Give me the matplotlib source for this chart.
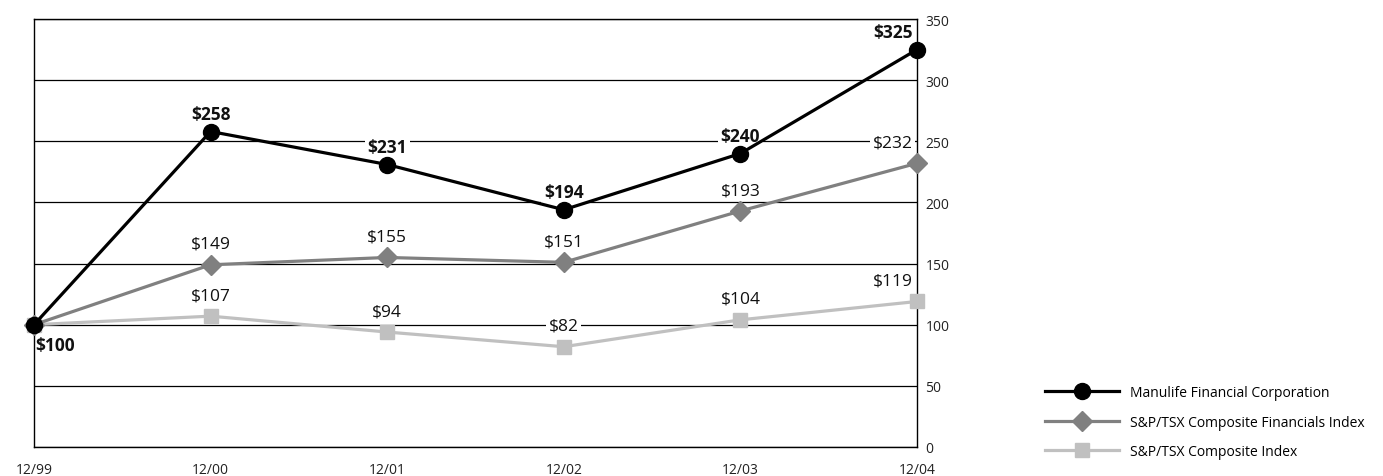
import matplotlib
matplotlib.use("Agg")
import matplotlib.pyplot as plt
from matplotlib.lines import Line2D

plt.rcParams['font.family'] = ['Open Sans', 'DejaVu Sans']

# Data
periods = ['12/99', '12/00', '12/01', '12/02', '12/03', '12/04']
manulife = [100, 258, 231, 194, 240, 325]
financials = [100, 149, 155, 151, 193, 232]
composite = [100, 107, 94, 82, 104, 119]
series_names = ['Manulife Financial Corporation',
                'S&P/TSX Composite Financials Index',
                'S&P/TSX Composite Index']
y_ticks = [0, 50, 100, 150, 200, 250, 300, 350]

BLACK = '#000000'
GRAY = '#808080'
LIGHT = '#c0c0c0'

fig = plt.figure(figsize=(13.83, 4.77), dpi=100)
ax = fig.add_axes([34 / 1383, 29 / 477, 883 / 1383, 428 / 477])

x = list(range(len(periods)))

ax.plot(x, composite, color=LIGHT, lw=2.3, marker='s', ms=10.5, mec=LIGHT,
        zorder=3, clip_on=False)
ax.plot(x, financials, color=GRAY, lw=2.3, marker='D', ms=10, mec=GRAY,
        zorder=4, clip_on=False)
ax.plot(x, manulife, color=BLACK, lw=2.3, marker='o', ms=11.5,
        zorder=5, clip_on=False)

ax.set_xlim(0, len(periods) - 1)
ax.set_ylim(0, 350)
ax.set_yticks(y_ticks)
ax.yaxis.tick_right()
ax.tick_params(axis='y', length=0, pad=6, labelsize=10, labelcolor='#222222')
ax.set_xticks(x)
ax.set_xticklabels(periods)
ax.tick_params(axis='x', length=0, pad=10.5, labelsize=10, labelcolor='#222222')
ax.grid(axis='y', color='black', lw=0.9, zorder=0.5)
ax.set_axisbelow(True)
for s in ax.spines.values():
    s.set_linewidth(1.0)
    s.set_color('black')

box = dict(boxstyle='square,pad=0.15', facecolor='white', edgecolor='none')


def label(values, bold, offset):
    for i, v in enumerate(values):
        if i == 0:
            continue
        ha = 'center'
        dx = 0
        if i == len(values) - 1:
            ha = 'right'
            dx = -3
        ax.annotate(f'${v}', (i, v), xytext=(dx, offset), textcoords='offset points',
                    ha=ha, va='center', fontsize=12.5,
                    fontweight='bold' if bold else 'normal',
                    color='#111111', bbox=box, zorder=2, annotation_clip=False)


label(composite, False, 15)
label(financials, False, 15)
label(manulife, True, 12.5)
ax.annotate(f'${manulife[0]}', (0, manulife[0]), xytext=(1, -14.5),
            textcoords='offset points', ha='left', va='center', fontsize=12.5,
            fontweight='bold', color='#111111', zorder=6, annotation_clip=False)

handles = [
    Line2D([], [], color=BLACK, lw=2.3, marker='o', ms=11.5),
    Line2D([], [], color=GRAY, lw=2.3, marker='D', ms=10, mec=GRAY),
    Line2D([], [], color=LIGHT, lw=2.3, marker='s', ms=10.5, mec=LIGHT),
]
fig.legend(handles, series_names, loc='upper left',
           bbox_to_anchor=(1045 / 1383, 1 - 386 / 477), frameon=False,
           fontsize=10, handlelength=5.3, handletextpad=0.85, labelspacing=1.05,
           borderpad=0, borderaxespad=0)

fig.savefig('out.png', dpi=100, facecolor='white')
